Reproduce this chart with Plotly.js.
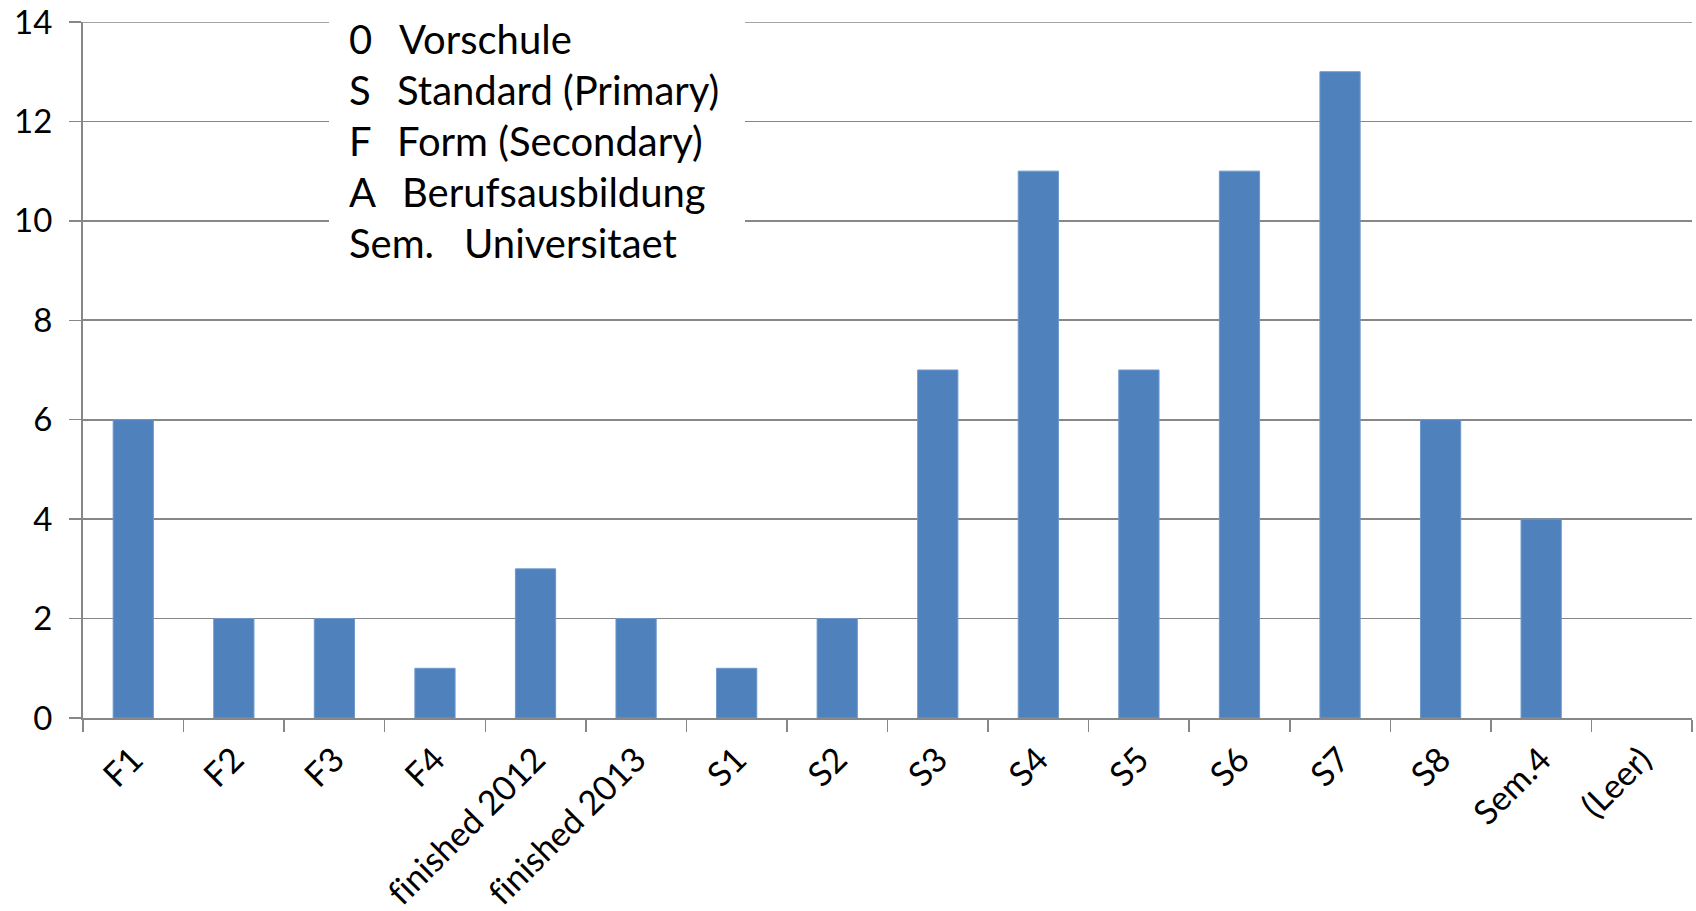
<!DOCTYPE html>
<html>
<head>
<meta charset="utf-8">
<script src="https://cdn.plot.ly/plotly-3.0.1.min.js"></script>
<style>html,body{margin:0;padding:0;background:#fff;}#chart{width:1696px;height:911px;}
#chart text{font-variant-ligatures:none !important;font-feature-settings:"liga" 0, "clig" 0;}</style>
</head>
<body>
<div id="chart"></div>
<script>
const categories = ["F1","F2","F3","F4","finished 2012","finished 2013","S1","S2","S3","S4","S5","S6","S7","S8","Sem.4","(Leer)"];
const counts = [6,2,2,1,3,2,1,2,7,11,7,11,13,6,4,null];
const legendCodes = ["0","S","F","A","Sem."];
const legendLabels = ["Vorschule","Standard (Primary)","Form (Secondary)","Berufsausbildung","Universitaet"];
const yTicks = [0,2,4,6,8,10,12,14];

const W = 1696, H = 911;
const L = 83, R = 1692, T = 22, B = 718;
const px = x => (x - L) / (R - L);
const py = y => (B - y) / (B - T);

const codeX = 347;
const labelX = [397, 395, 395, 400, 462];
const lineY = [39, 90, 141, 192, 243];
const FONT = "Lato, 'Open Sans', sans-serif";
const GRID = '#878787';

const annotations = [];
legendCodes.forEach((c, i) => {
  annotations.push({xref:'paper', yref:'paper', x: px(codeX), y: py(lineY[i]), xanchor:'left', yanchor:'middle',
    text: c, showarrow:false, font:{family:FONT, size:40, color:'#000'}});
  annotations.push({xref:'paper', yref:'paper', x: px(labelX[i]), y: py(lineY[i]), xanchor:'left', yanchor:'middle',
    text: legendLabels[i], showarrow:false, font:{family:FONT, size:40, color:'#000'}});
});

const data = [{
  type:'bar', x: categories, y: counts,
  marker:{color:'#4F81BD', line:{color:'#6E98CC', width:1}},
  hoverinfo:'x+y'
}];

const layout = {
  width: W, height: H,
  margin:{l:L, r:W-R, t:T, b:H-B, pad:0},
  paper_bgcolor:'#fff', plot_bgcolor:'#fff',
  showlegend:false,
  bargap:0.6,
  font:{family:FONT, size:34, color:'#000'},
  xaxis:{type:'category', tickangle:-45, tickson:'boundaries', ticks:'outside', ticklen:12, tickwidth:1.5, tickcolor:GRID,
    showline:true, linecolor:GRID, linewidth:2, showgrid:false, zeroline:false,
    ticklabelstandoff:6,
    tickfont:{family:FONT, size:34, color:'#000'}},
  yaxis:{range:[0,14], tickvals:yTicks, ticktext:yTicks.map(String), ticks:'outside', ticklen:12, tickwidth:1.5, tickcolor:GRID,
    showline:true, linecolor:GRID, linewidth:2, showgrid:true, gridcolor:GRID, gridwidth:1.7, zeroline:false,
    ticklabelstandoff:10,
    tickfont:{family:FONT, size:33, color:'#000'}},
  shapes:[
    {type:'line', xref:'paper', yref:'y', x0:0, x1:1, y0:yTicks[yTicks.length-1], y1:yTicks[yTicks.length-1],
      line:{color:GRID, width:1.7}, layer:'below'},
    {type:'rect', xref:'paper', yref:'paper', x0:px(329), x1:px(745), y0:py(275), y1:py(0),
      fillcolor:'#fff', line:{width:0}, layer:'above'}
  ],
  annotations: annotations
};

Plotly.newPlot('chart', data, layout, {staticPlot:true, displayModeBar:false});
</script>
</body>
</html>
